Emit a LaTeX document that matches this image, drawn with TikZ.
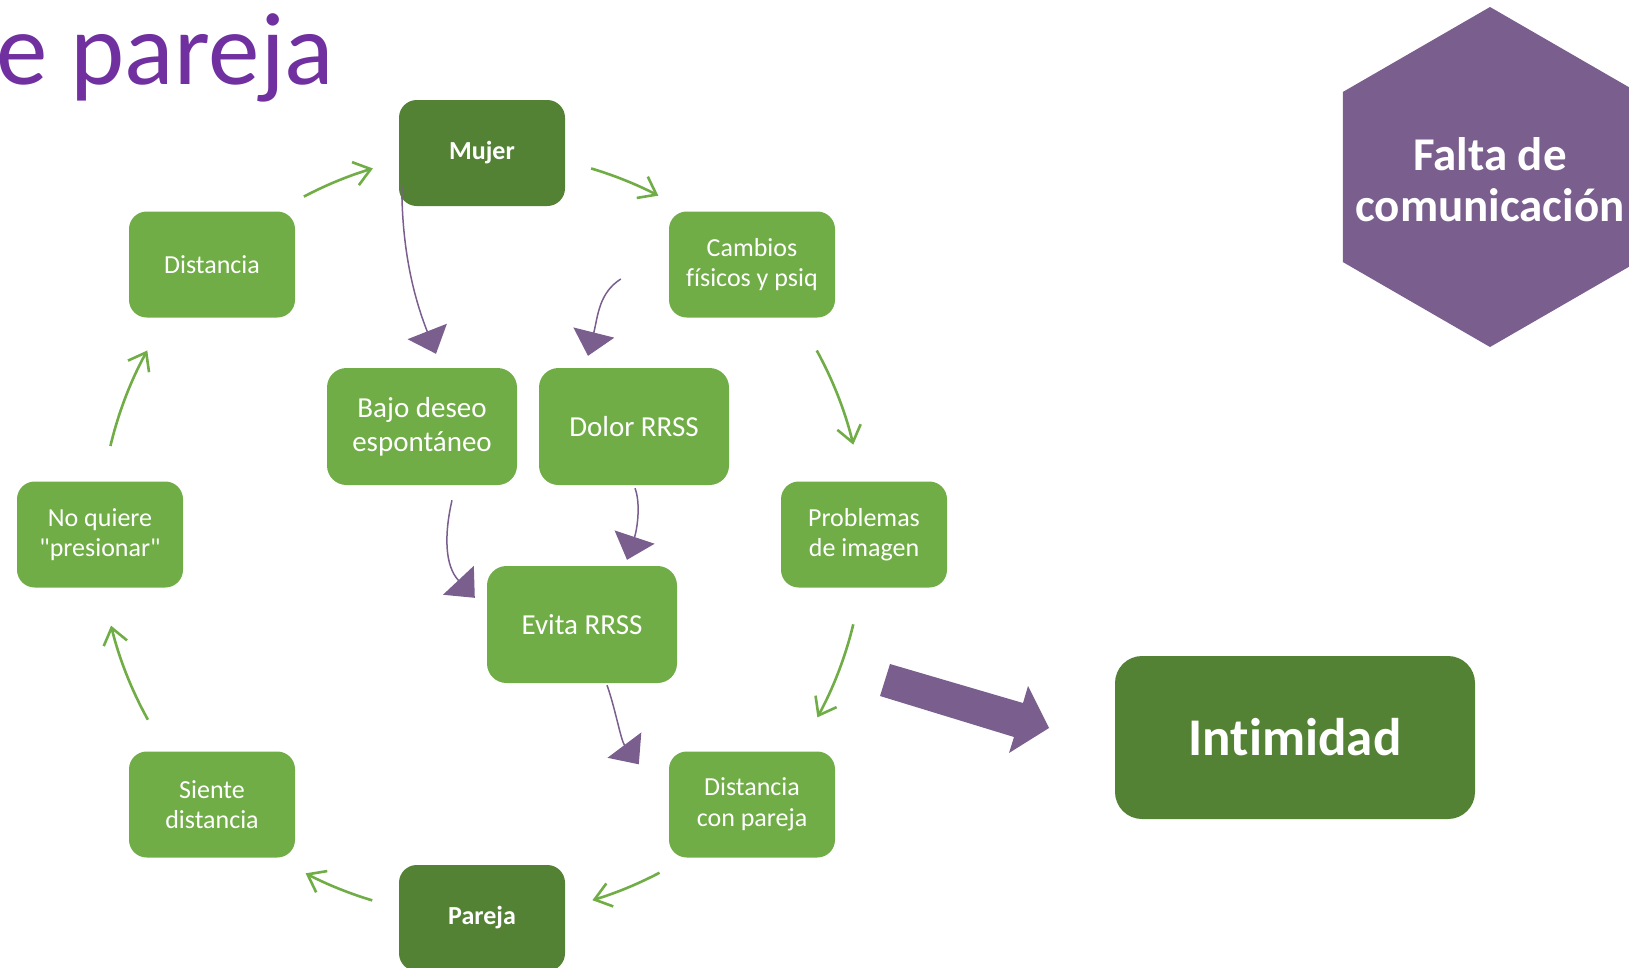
\documentclass[tikz,border=0pt]{standalone}
\usepackage{fontspec}
\setmainfont{Carlito}[Ligatures={TeXOff,CommonOff}]
\usetikzlibrary{arrows.meta,calc}
\definecolor{gbox}{RGB}{112,173,71}
\definecolor{dbox}{RGB}{84,130,53}
\definecolor{pur}{RGB}{122,94,142}
\definecolor{titlec}{RGB}{112,48,160}
\tikzset{
  sbox/.style={fill=gbox, rounded corners=17.7pt, text=white, align=center,
    minimum width=166pt, minimum height=106pt, inner sep=0pt,
    font=\fontsize{26}{30.5}\selectfont},
  kbox/.style={sbox, fill=dbox, font=\fontsize{26}{30.5}\selectfont\bfseries},
  bbox/.style={sbox, minimum width=190pt, minimum height=117pt, rounded corners=19.5pt,
    font=\fontsize{29}{34}\selectfont},
  garrow/.style={draw=gbox, line width=2.6pt, -{Straight Barb[length=16pt,width=24pt]}},
  parrow/.style={draw=pur, line width=1.5pt, -{Triangle[length=24pt,width=42pt]}},
}
\begin{document}
\begin{tikzpicture}[x=1pt,y=-1pt]
\useasboundingbox (0,0) rectangle (1629,967);
% title
\node[anchor=base west, text=titlec, inner sep=0pt, font=\fontsize{103}{103}\selectfont] (title) at (-4,84) {e pareja};
% hexagon
\coordinate (hexc) at (1490,177);
\fill[pur] ($(hexc)+(30:170)$) -- ($(hexc)+(90:170)$) -- ($(hexc)+(150:170)$) -- ($(hexc)+(210:170)$) -- ($(hexc)+(270:170)$) -- ($(hexc)+(330:170)$) -- cycle;
\node[text=white, align=center, inner sep=0pt, font=\fontsize{47}{51}\selectfont\bfseries] (falta) at (1490,180) {Falta de\\comunicación};
% nodes
\node[kbox] (mujer) at (482,153) {Mujer};
\node[sbox] (cambios) at (752,264.5) {Cambios\\físicos y psiq};
\node[sbox] (problemas) at (864,534.5) {Problemas\\de imagen};
\node[sbox] (distpareja) at (752,804.5) {Distancia\\con pareja};
\node[kbox] (pareja) at (482,918) {Pareja};
\node[sbox] (siente) at (212,804.5) {Siente\\distancia};
\node[sbox] (noquiere) at (100,534.5) {No quiere\\"presionar"};
\node[sbox] (distancia) at (212,264.5) {Distancia};
\node[bbox] (bajo) at (422,426.5) {Bajo deseo\\espontáneo};
\node[bbox] (dolor) at (634,426.5) {Dolor RRSS};
\node[bbox] (evita) at (582,624.5) {Evita RRSS};
\node[sbox, fill=dbox, minimum width=360pt, minimum height=163pt, rounded corners=27pt,
  font=\fontsize{53}{60}\selectfont\bfseries] (intim) at (1295,737.5) {Intimidad};
% cycle arrows
\coordinate (cyc) at (482,534.5);
\foreach \a/\b in {242.2/253.4, 286.6/297.5, 331.2/346.4, 13.6/28.6, 62.3/73.2, 106.7/117.5, 151.0/166.2, 193.4/208.8}{
  \draw[garrow] ($(cyc)+(\a:382)$) arc[start angle=\a, end angle=\b, radius=382];
}
% purple arrows
\draw[parrow] ($(mujer.south west)+(3,-21)$) .. controls +(0,65) and +(-22,-56) .. ($(bajo.north)+(14,-14)$);
\draw[parrow] ($(cambios.west)+(-48,14.5)$) .. controls +(-22,14) and +(10,-40) .. ($(dolor.north)+(-46,-12)$);
\draw[parrow] ($(bajo.south)+(30,15)$) .. controls +(-8,35) and +(-30,-32) .. ($(evita.north west)+(-12,32)$);
\draw[parrow] ($(dolor.south)+(1,3)$) .. controls +(6,16) and +(10,-30) .. ($(evita.north)+(45,-6)$);
\draw[parrow] ($(evita.south)+(25,2)$) .. controls +(8,22) and +(-18,-24) .. ($(distpareja.north west)+(-30,13)$);
% block arrow
\fill[pur] (890,664) -- (1023,703) -- (1028,686) -- (1049,728) -- (1009,753) -- (1014,737) -- (880,696) -- cycle;
\end{tikzpicture}
\end{document}
